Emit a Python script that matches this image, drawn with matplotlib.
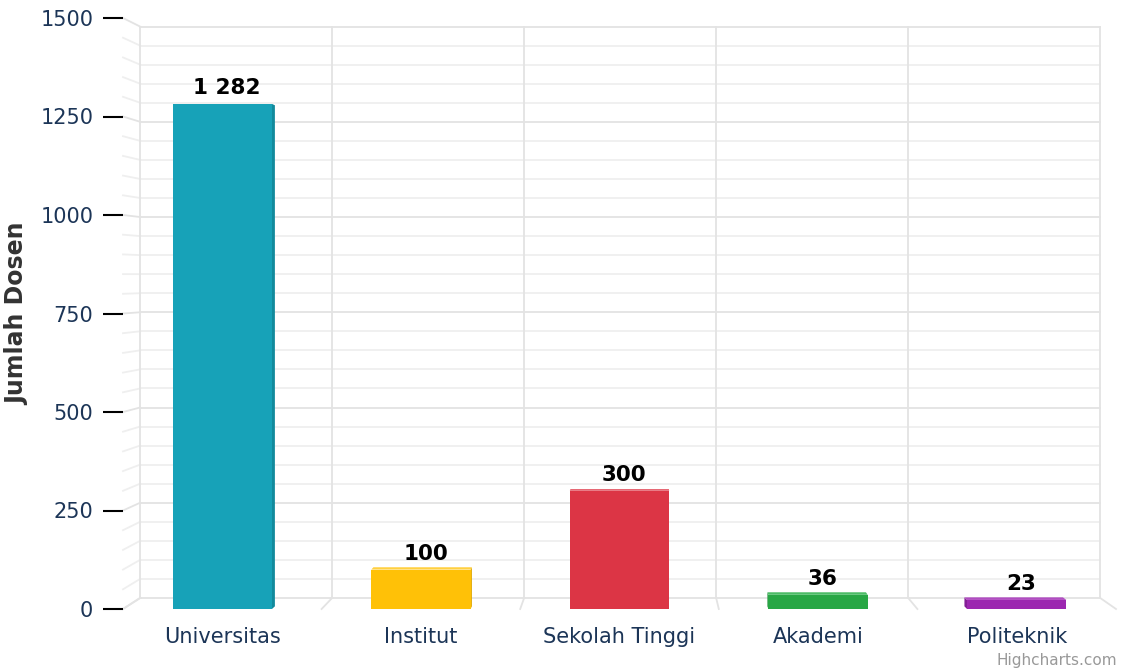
import matplotlib
matplotlib.use('Agg')
import matplotlib.pyplot as plt
from matplotlib.patches import Polygon

categories = ['Universitas', 'Institut', 'Sekolah Tinggi', 'Akademi', 'Politeknik']
values = [1282, 100, 300, 36, 23]
colors = ['#17a2b8', '#ffc107', '#dc3545', '#28a745', '#9c27b0']
side_colors = ['#128a9c', '#e0a800', '#c12a39', '#1f8d39', '#841f96']
top_colors = ['#3fb5c8', '#ffd040', '#e45c69', '#4cbc66', '#b04cc1']
y_ticks = [0, 250, 500, 750, 1000, 1250, 1500]

LABEL_COLOR = '#1c3557'
GRID_MAJOR = '#e3e3e3'
GRID_MINOR = '#efefef'

# 3D frame: vanishing point (data coords) and depth scale factors
XC, YC = 2.10, 845
S_WALL = 0.967
S_BAR = 0.992
BAR_W = 0.5


def proj(x, y, s):
    return XC + s * (x - XC), YC + s * (y - YC)


fig = plt.figure(figsize=(11.26, 6.71), dpi=100)
ax = fig.add_axes([123 / 1126, 62 / 671, 993 / 1126, 591 / 671])
ax.set_xlim(-0.5, len(categories) - 0.5)
ax.set_ylim(0, 1500)
ax.set_facecolor('none')
for sp in ax.spines.values():
    sp.set_visible(False)

# back wall + side wall grid
x0, x1 = -0.5, len(categories) - 0.5
for v in range(0, 1501, 50):
    c = GRID_MAJOR if v % 250 == 0 else GRID_MINOR
    bl, br = proj(x0, v, S_WALL), proj(x1, v, S_WALL)
    ax.plot([bl[0], br[0]], [bl[1], br[1]], color=c, lw=1.3, zorder=0, clip_on=False)
    ax.plot([x0, bl[0]], [v, bl[1]], color=c, lw=1.3, zorder=0, clip_on=False)
for i in range(len(categories) + 1):
    xb = i - 0.5
    b0, b1 = proj(xb, 0, S_WALL), proj(xb, 1500, S_WALL)
    ax.plot([b0[0], b1[0]], [b0[1], b1[1]], color=GRID_MAJOR, lw=1.3, zorder=0, clip_on=False)
    ax.plot([xb, b0[0]], [0, b0[1]], color=GRID_MAJOR, lw=1.3, zorder=0, clip_on=False)

# columns with thin 3D side/top faces
for i, (v, c, sc, tc) in enumerate(zip(values, colors, side_colors, top_colors)):
    xl, xr = i - BAR_W / 2, i + BAR_W / 2
    if xr < XC:
        pts = [(xr, 0), (xr, v), proj(xr, v, S_BAR), proj(xr, 0, S_BAR)]
        ax.add_patch(Polygon(pts, closed=True, color=sc, lw=0, zorder=2))
    if xl > XC:
        pts = [(xl, 0), (xl, v), proj(xl, v, S_BAR), proj(xl, 0, S_BAR)]
        ax.add_patch(Polygon(pts, closed=True, color=sc, lw=0, zorder=2))
    if v < YC:
        pts = [(xl, v), (xr, v), proj(xr, v, S_BAR), proj(xl, v, S_BAR)]
        ax.add_patch(Polygon(pts, closed=True, color=tc, lw=0, zorder=2))
    ax.bar(i, v, width=BAR_W, color=c, lw=0, zorder=3)
    ax.annotate(f'{v:,}'.replace(',', ' '), (i, v), xytext=(3.5, 7),
                textcoords='offset points', ha='center', va='baseline',
                fontsize=15.5, fontweight='bold', color='black', zorder=4)

ax.set_yticks(y_ticks)
ax.set_xticks(range(len(categories)))
ax.set_xticklabels(categories)
ax.tick_params(axis='y', length=14.4, width=1.5, color='black', pad=7,
               labelsize=15, labelcolor=LABEL_COLOR)
ax.tick_params(axis='x', length=0, pad=13, labelsize=15, labelcolor=LABEL_COLOR)
ax.set_ylabel('Jumlah Dosen', fontsize=17, fontweight='bold', color='#333333')
ax.yaxis.set_label_coords(-0.094, 0.5)

fig.text(1117 / 1126, 1 - 660 / 671, 'Highcharts.com', ha='right', va='center',
         color='#999999', fontsize=11)

fig.savefig('out.png', dpi=100)
